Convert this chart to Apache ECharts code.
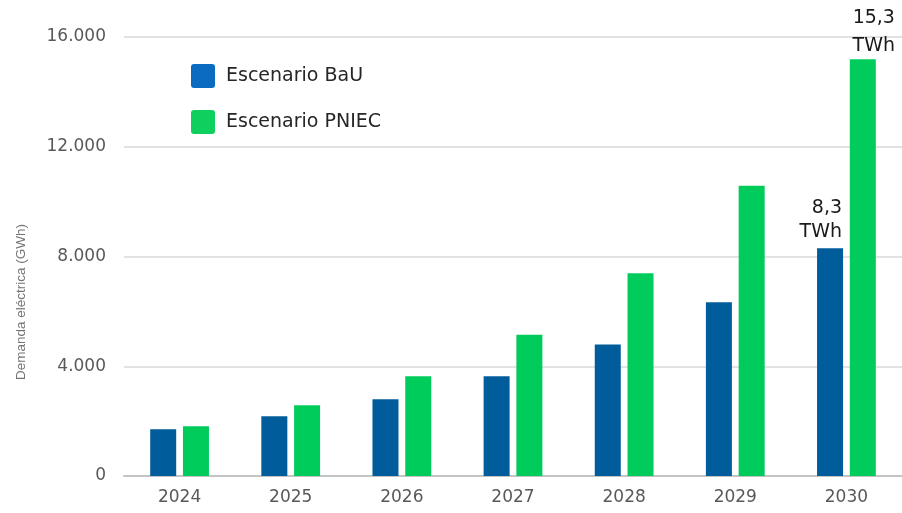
<!DOCTYPE html>
<html>
<head>
<meta charset="utf-8">
<script src="https://cdn.jsdelivr.net/npm/echarts@6/dist/echarts.min.js"></script>
<style>
html,body{margin:0;padding:0;background:#fff;}
#chart{width:902px;height:513px;}
</style>
</head>
<body>
<div id="chart"></div>
<script>
const years = ['2024','2025','2026','2027','2028','2029','2030'];
const bauValues = [1700, 2180, 2800, 3640, 4790, 6330, 8300];
const pniecValues = [1810, 2580, 3640, 5150, 7390, 10580, 15190];
const seriesNames = ['Escenario BaU', 'Escenario PNIEC'];
const yTicks = [0, 4000, 8000, 12000, 16000];
const axisTitle = 'Demanda eléctrica (GWh)';
const bauNote = '8,3\nTWh';
const pniecNote = '15,3\nTWh';

const chart = echarts.init(document.getElementById('chart'), null, {renderer: 'canvas'});

function fmt(v){ return String(v).replace(/\B(?=(\d{3})+(?!\d))/g, '.'); }

const bauData = bauValues.map((v, i) => i === bauValues.length - 1 ? {
  value: v,
  label: {show: true, formatter: bauNote, position: 'top', align: 'right', offset: [12, 3], distance: 7,
    fontFamily: 'DejaVu Sans', fontSize: 19, color: '#1a1a1a', lineHeight: 24}
} : v);
const pniecData = pniecValues.map((v, i) => i === pniecValues.length - 1 ? {
  value: v,
  label: {show: true, formatter: pniecNote, position: 'top', align: 'center', offset: [11, 5], distance: 4,
    fontFamily: 'DejaVu Sans', fontSize: 19, color: '#1a1a1a', lineHeight: 28}
} : v);

chart.setOption({
  animation: false,
  backgroundColor: '#ffffff',
  grid: {left: 124, right: -3, top: 37, bottom: 37, containLabel: false},
  legend: {
    orient: 'vertical', left: 186, top: 59,
    itemWidth: 24, itemHeight: 24, itemGap: 22,
    icon: 'path://M3,0 L21,0 Q24,0 24,3 L24,21 Q24,24 21,24 L3,24 Q0,24 0,21 L0,3 Q0,0 3,0 Z',
    textStyle: {fontFamily: 'DejaVu Sans', fontSize: 19, color: '#262626', padding: [0, 0, 0, 6]},
    data: [
      {name: seriesNames[0], itemStyle: {color: '#0a6bc1'}},
      {name: seriesNames[1], itemStyle: {color: '#0fcf5f'}}
    ]
  },
  xAxis: {
    type: 'category', data: years,
    axisLine: {show: true, lineStyle: {color: '#c4c4c4', width: 2}},
    axisTick: {show: false},
    axisLabel: {fontFamily: 'DejaVu Sans', fontSize: 17, color: '#595959', margin: 13}
  },
  yAxis: {
    type: 'value', min: 0, max: 16000, interval: 4000,
    axisLine: {show: false}, axisTick: {show: false},
    splitLine: {show: true, lineStyle: {color: '#d9d9d9', width: 1.5}},
    axisLabel: {fontFamily: 'DejaVu Sans', fontSize: 17, color: '#595959', margin: 18,
      formatter: v => yTicks.indexOf(v) >= 0 ? fmt(v) : ''}
  },
  graphic: [{
    type: 'text', x: 21, y: 302, rotation: Math.PI / 2,
    style: {text: axisTitle, fontFamily: 'Liberation Sans', fontSize: 13.5, fill: '#737373',
      align: 'center', verticalAlign: 'middle'}
  }],
  series: [
    {name: seriesNames[0], type: 'bar', data: bauData, barWidth: 26, barGap: '26%',
      itemStyle: {color: '#005c9a'}},
    {name: seriesNames[1], type: 'bar', data: pniecData, barWidth: 26,
      itemStyle: {color: '#00cc5c'}}
  ]
});
</script>
</body>
</html>
